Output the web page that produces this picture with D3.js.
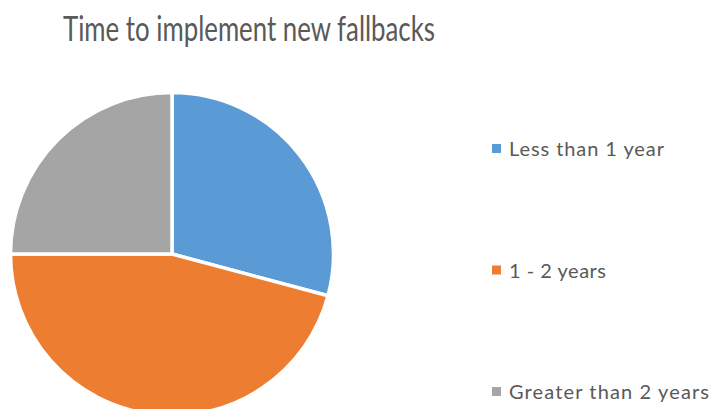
<!DOCTYPE html>
<html><head><meta charset="utf-8">
<script src="https://cdn.jsdelivr.net/npm/d3@7"></script>
<style>html,body{margin:0;padding:0;background:#fff;overflow:hidden}</style>
</head><body>
<script>
const title = "Time to implement new fallbacks";
const categories = ["Less than 1 year", "1 - 2 years", "Greater than 2 years"];
const values = [7, 11, 6];
const colors = ["#5B9BD5", "#ED7D31", "#A5A5A5"];

const W = 711, H = 409;
const svg = d3.select("body").append("svg").attr("width", W).attr("height", H);
const font = "Lato, 'Open Sans', sans-serif";

// fit helper: compress/expand text to a target width
function fit(sel, w, mode) {
  sel.attr("textLength", w).attr("lengthAdjust", mode);
}

const t = svg.append("text").attr("x", 63).attr("y", 41)
  .attr("font-family", font).attr("font-size", 35).attr("fill", "#595959")
  .text(title);
fit(t, 372, "spacingAndGlyphs");

const pie = d3.pie().sort(null).value(d => d)(values);
const arc = d3.arc().innerRadius(0).outerRadius(161.5);
const g = svg.append("g").attr("transform", "translate(172,254)");
g.selectAll("path").data(pie).join("path")
  .attr("d", arc).attr("fill", (d, i) => colors[i])
  .attr("stroke", "#fff").attr("stroke-width", 3.5).attr("stroke-linejoin", "round");

const legendWidths = [155, 97, 200];
const y = d3.scalePoint().domain(categories).range([148.5, 391.5]);
const lg = svg.append("g");
categories.forEach((c, i) => {
  lg.append("rect").attr("x", 492).attr("y", y(c) - 4.5).attr("width", 9).attr("height", 9).attr("fill", colors[i]);
  const lt = lg.append("text").attr("x", 509).attr("y", y(c) + 7.5)
    .attr("font-family", font).attr("font-size", 20).attr("fill", "#595959").text(c);
  fit(lt, legendWidths[i], "spacing");
});
</script>
</body></html>
